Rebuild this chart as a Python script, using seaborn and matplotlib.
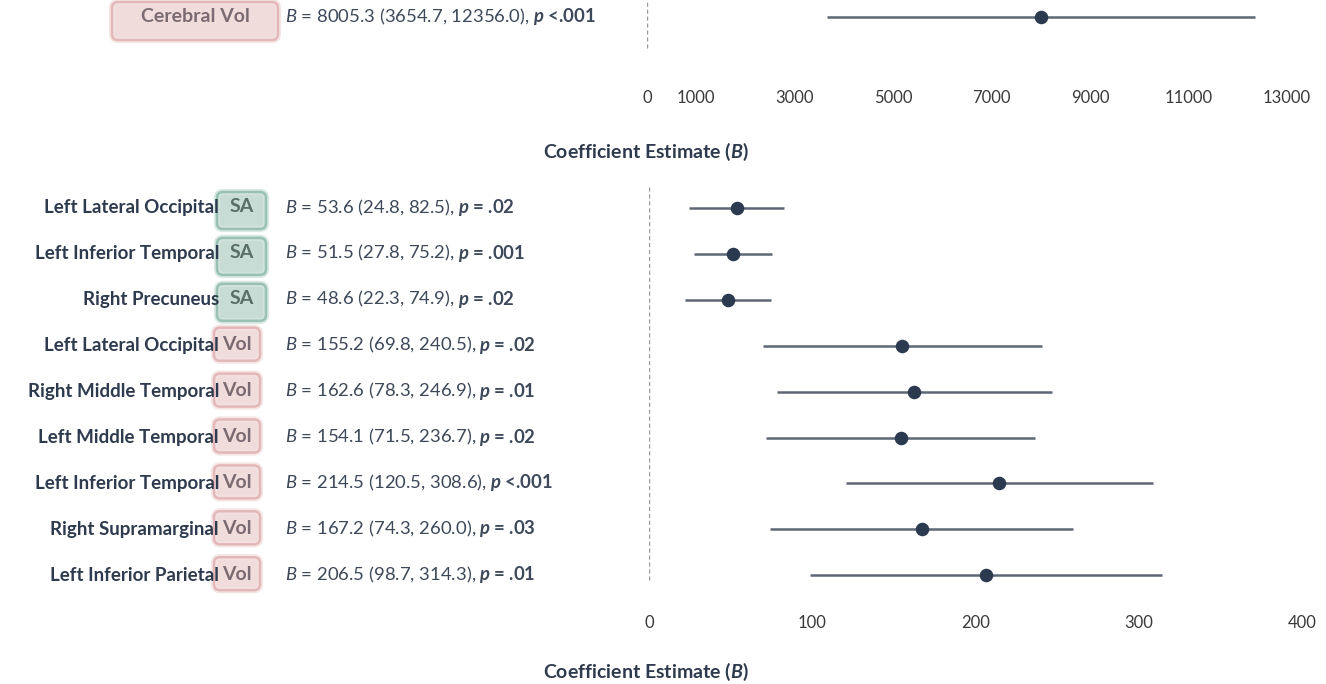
import numpy as np
import pandas as pd
import seaborn as sns
import matplotlib.pyplot as plt
from matplotlib.patches import FancyBboxPatch
from matplotlib.transforms import IdentityTransform

# ---------------- data ----------------
top_regions = ["Cerebral"]
top_measures = ["Vol"]
top_est = [8005.3]
top_lo = [3654.7]
top_hi = [12356.0]
top_p = ["<.001"]
top_ticks = [0, 1000, 3000, 5000, 7000, 9000, 11000, 13000]

regions = ["Left Lateral Occipital", "Left Inferior Temporal", "Right Precuneus",
           "Left Lateral Occipital", "Right Middle Temporal", "Left Middle Temporal",
           "Left Inferior Temporal", "Right Supramarginal", "Left Inferior Parietal"]
measures = ["SA", "SA", "SA", "Vol", "Vol", "Vol", "Vol", "Vol", "Vol"]
est = [53.6, 51.5, 48.6, 155.2, 162.6, 154.1, 214.5, 167.2, 206.5]
lo = [24.8, 27.8, 22.3, 69.8, 78.3, 71.5, 120.5, 74.3, 98.7]
hi = [82.5, 75.2, 74.9, 240.5, 246.9, 236.7, 308.6, 260.0, 314.3]
pvals = [".02", ".001", ".02", ".02", ".01", ".02", "<.001", ".03", ".01"]
bottom_ticks = [0, 100, 200, 300, 400]
xlabel = "Coefficient Estimate ($\\mathbfit{B}$)"

# ---------------- style ----------------
sns.set_theme(style="white")
plt.rcParams['font.family'] = ['Lato', 'DejaVu Sans']
plt.rcParams['mathtext.fontset'] = 'custom'
plt.rcParams['mathtext.rm'] = 'Lato'
plt.rcParams['mathtext.it'] = 'Lato:italic'
plt.rcParams['mathtext.bf'] = 'Lato:bold'
plt.rcParams['mathtext.bfit'] = 'Lato:bold:italic'

W, H = 1326, 684
fig = plt.figure(figsize=(W / 100, H / 100), dpi=100)
fig.patch.set_facecolor("white")

def fx(x):
    return x / W

def fy(y):
    return 1 - y / H

DOT = "#2c3a50"
LINE = "#5d6777"
TXT = "#2e3a4e"
STAT = "#3d4859"
FS_NAME = 13.5
FS_STAT = 13.3
FS_BADGE = 14
FS_TICK = 12
FS_XLAB = 14

BADGE = {
    "Vol": dict(fc="#efd6d6", ec="#e2b3b3", halo="#f4e2e2", tc="#7a6b72"),
    "SA": dict(fc="#bdd6cd", ec="#92bdaf", halo="#d3e5de", tc="#587069"),
}

def badge(x0, x1, y0, y1, kind, label, ty):
    st = BADGE[kind]
    halo = FancyBboxPatch((x0, H - y1), x1 - x0, y1 - y0,
                          boxstyle="round,pad=0,rounding_size=6",
                          transform=IdentityTransform(), fc=st["fc"], ec=st["halo"],
                          lw=4.5, zorder=4, alpha=0.85)
    box = FancyBboxPatch((x0, H - y1), x1 - x0, y1 - y0,
                         boxstyle="round,pad=0,rounding_size=6",
                         transform=IdentityTransform(), fc="none", ec=st["ec"],
                         lw=1.8, zorder=5, alpha=0.9)
    fig.add_artist(halo)
    fig.add_artist(box)
    fig.text(fx((x0 + x1) / 2), fy(ty), label, ha="center", va="center",
             fontsize=FS_BADGE, weight="bold", color=st["tc"], zorder=7)

stat_pairs = []

def stats(x, y, b, l, h, p):
    t1 = fig.text(fx(x), fy(y + 5), f"$\\mathit{{B}}$ = {b:.1f} ({l:.1f}, {h:.1f}),",
                  ha="left", va="baseline", fontsize=FS_STAT, color=STAT)
    ptxt = f"$\\mathbfit{{p}}$ = {p}" if not p.startswith("<") else f"$\\mathbfit{{p}}$ {p}"
    t2 = fig.text(fx(x), fy(y + 5), ptxt, ha="left", va="baseline",
                  fontsize=FS_STAT, color=STAT, weight="bold")
    stat_pairs.append((t1, t2))

# ---------------- top panel ----------------
ax_t = fig.add_axes([fx(647), fy(75), (1287 - 647) / W, 75 / H])
top_df = pd.DataFrame({"est": top_est, "lo": top_lo, "hi": top_hi,
                       "row": np.arange(len(top_est))})
ax_t.hlines(top_df["row"], top_df["lo"], top_df["hi"], color=LINE, lw=1.8, zorder=2)
sns.scatterplot(data=top_df, x="est", y="row", ax=ax_t, s=95, color=DOT,
                edgecolor=DOT, linewidth=0, zorder=3, legend=False)
ax_t.axvline(0, ymin=0.36, ymax=1.0, color="#9a9a9a", lw=1.0, ls=(0, (3, 2)))
ax_t.set_xlim(0, 13000)
ax_t.set_ylim(58 / 45.9, -17 / 45.9)
ax_t.set_xticks(top_ticks)
ax_t.set_xticklabels([str(t) for t in top_ticks])
ax_t.set_yticks([])
ax_t.set_xlabel("")
ax_t.set_ylabel("")
ax_t.tick_params(axis="x", length=0, pad=11, labelsize=FS_TICK, labelcolor="#3a3a3a")
for s in ax_t.spines.values():
    s.set_visible(False)
ax_t.patch.set_alpha(0)

for i, (r, m) in enumerate(zip(top_regions, top_measures)):
    badge(112, 278, 2, 40, m, f"{r} {m}", 17)
    stats(285, 17, top_est[i], top_lo[i], top_hi[i], top_p[i])

fig.text(fx(646), fy(152), xlabel, ha="center", va="center", fontsize=FS_XLAB,
         weight="bold", color=TXT)

# ---------------- bottom panel ----------------
ax_b = fig.add_axes([fx(649), fy(600), (1302 - 649) / W, (600 - 185) / H])
df = pd.DataFrame({"est": est, "lo": lo, "hi": hi, "row": np.arange(len(est))})
ax_b.hlines(df["row"], df["lo"], df["hi"], color=LINE, lw=1.8, zorder=2)
sns.scatterplot(data=df, x="est", y="row", ax=ax_b, s=95, color=DOT,
                edgecolor=DOT, linewidth=0, zorder=3, legend=False)
ax_b.axvline(0, ymin=20 / 415, ymax=414 / 415, color="#9a9a9a", lw=1.0, ls=(0, (3, 2)))
ax_b.set_xlim(0, 400)
unit = 45.9
ax_b.set_ylim((600 - 208) / unit, -(208 - 185) / unit)
ax_b.set_xticks(bottom_ticks)
ax_b.set_xticklabels([str(t) for t in bottom_ticks])
ax_b.set_yticks([])
ax_b.set_xlabel("")
ax_b.set_ylabel("")
ax_b.tick_params(axis="x", length=0, pad=11, labelsize=FS_TICK, labelcolor="#3a3a3a")
for s in ax_b.spines.values():
    s.set_visible(False)
ax_b.patch.set_alpha(0)

for i, (r, m) in enumerate(zip(regions, measures)):
    y = 208 + i * unit
    fig.text(fx(219), fy(y), r, ha="right", va="center", fontsize=FS_NAME,
             weight="bold", color=TXT, zorder=6)
    if m == "SA":
        badge(217, 266, y - 16, y + 21, m, m, y - 1)
    else:
        badge(214, 260, y - 18, y + 15, m, m, y - 1)
    stats(285, y, est[i], lo[i], hi[i], pvals[i])

fig.text(fx(646), fy(672), xlabel, ha="center", va="center", fontsize=FS_XLAB,
         weight="bold", color=TXT)

# position the bold p-part right after the first part
fig.canvas.draw()
renderer = fig.canvas.get_renderer()
for t1, t2 in stat_pairs:
    bb = t1.get_window_extent(renderer)
    x_px = bb.x1 + 3
    t2.set_x(x_px / W)

fig.savefig("out.png", dpi=100, facecolor="white")
